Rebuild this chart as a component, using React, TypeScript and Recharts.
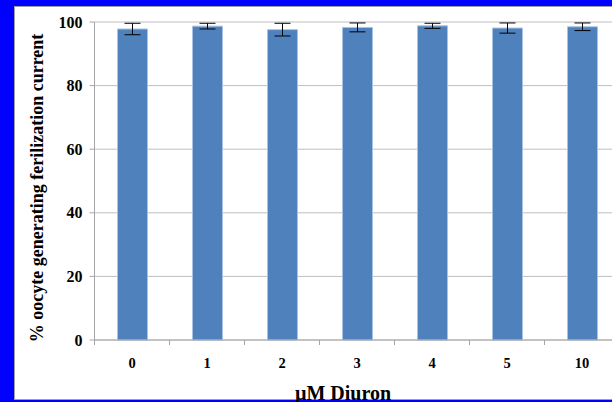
import React from 'react';
import { BarChart, Bar, XAxis, YAxis, CartesianGrid, ErrorBar } from 'recharts';

const doses = ['0', '1', '2', '3', '4', '5', '10'];
const percentValues = [97.8, 98.7, 97.6, 98.3, 98.8, 98.1, 98.5];
const errorValues = [1.8, 0.9, 2.0, 1.4, 0.8, 1.6, 1.2];
const yTicks = [0, 20, 40, 60, 80, 100];

const data = doses.map((d, i) => ({ dose: d, value: percentValues[i], err: errorValues[i] }));

const FONT = "'Liberation Serif', 'Times New Roman', serif";
const HALF_BAND = 37.5;

const XTick = (props: any) => {
  const { x, payload } = props;
  return (
    <g>
      <line x1={x - HALF_BAND} x2={x - HALF_BAND} y1={340} y2={345} stroke="#a6a6a6" />
      <text x={x} y={368} textAnchor="middle" fontFamily={FONT} fontWeight="bold" fontSize={14.5} fill="#000">
        {payload.value}
      </text>
    </g>
  );
};

export default function App() {
  return (
    <div style={{ position: 'fixed', left: 0, top: 0, width: 612, height: 402, background: '#0000ff', overflow: 'hidden' }}>
      <div style={{ position: 'absolute', left: 14, top: 6, width: 660, height: 392, background: '#fff', border: '1px solid #a0a0a0' }} />
      <div style={{ position: 'absolute', left: 0, top: 0 }}>
        <BarChart width={640} height={402} data={data} margin={{ top: 22, right: 20.5, bottom: 32, left: 14.5 }} barCategoryGap="30%">
          <CartesianGrid vertical={false} stroke="#bfbfbf" />
          <XAxis dataKey="dose" height={30} tickLine={false} axisLine={{ stroke: '#a6a6a6' }} tick={<XTick />} interval={0} />
          <YAxis
            width={80}
            domain={[0, 100]}
            ticks={yTicks}
            tickSize={5}
            tickMargin={7}
            axisLine={{ stroke: '#a6a6a6' }}
            tickLine={{ stroke: '#a6a6a6' }}
            tick={{ fontFamily: FONT, fontWeight: 'bold', fontSize: 16, fill: '#000' }}
          />
          <Bar dataKey="value" fill="#4f81bd" stroke="#a9c3e2" strokeWidth={1} barSize={30} isAnimationActive={false}>
            <ErrorBar dataKey="err" width={8} stroke="#000" strokeWidth={1} isAnimationActive={false} />
          </Bar>
        </BarChart>
      </div>
      <div style={{ position: 'absolute', left: 37, top: 188, transform: 'translate(-50%, -50%) rotate(-90deg)', whiteSpace: 'nowrap', fontFamily: FONT, fontWeight: 'bold', fontSize: 18, color: '#000' }}>
        % oocyte generating ferilization current
      </div>
      <div style={{ position: 'absolute', left: 343, top: 383, transform: 'translateX(-50%)', whiteSpace: 'nowrap', fontFamily: FONT, fontWeight: 'bold', fontSize: 20, color: '#000', lineHeight: '20px' }}>
        µM Diuron
      </div>
    </div>
  );
}
